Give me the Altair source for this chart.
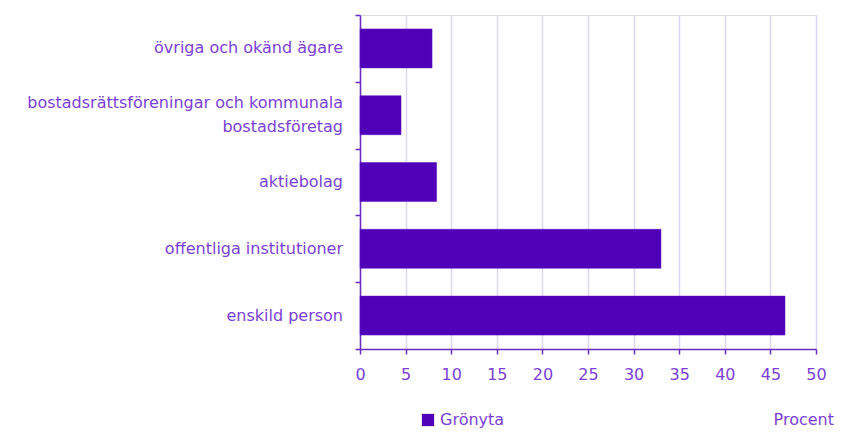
import altair as alt
import pandas as pd

categories = [
    "övriga och okänd ägare",
    "bostadsrättsföreningar och kommunala|bostadsföretag",
    "aktiebolag",
    "offentliga institutioner",
    "enskild person",
]
values = [7.9, 4.5, 8.4, 33.0, 46.6]
series = ["Grönyta"] * 5
x_ticks = [0, 5, 10, 15, 20, 25, 30, 35, 40, 45, 50]

df = pd.DataFrame({"kategori": categories, "procent": values, "serie": series})
df["rader"] = df["kategori"].str.count(r"\|") + 1

TEXT = "#7B3FD6"
AXIS = "#6A2CC0"
BAR = "#5000B8"
GRID = "#DCD8F4"
FONT = "DejaVu Sans"
FS = 16

y_bars = alt.Y(
    "kategori:N",
    sort=categories,
    scale=alt.Scale(paddingInner=0, paddingOuter=0),
    axis=alt.Axis(
        title=None,
        labels=False,
        tickBand="extent",
        domainColor=AXIS,
        domainWidth=1.5,
        tickColor=AXIS,
        tickWidth=1.5,
        tickSize=5,
    ),
)
y_plain = alt.Y("kategori:N", sort=categories)

bars = alt.Chart(df).mark_bar(
    color=BAR, stroke="#5A10C0", strokeWidth=0.5, size=39
).encode(
    x=alt.X(
        "procent:Q",
        scale=alt.Scale(domain=[0, 50], nice=False),
        axis=alt.Axis(
            values=x_ticks,
            title=None,
            grid=True,
            gridColor=GRID,
            gridWidth=1.5,
            domainColor=AXIS,
            domainWidth=1.5,
            tickColor=AXIS,
            tickWidth=1.5,
            tickSize=5,
            labelColor=TEXT,
            labelFont=FONT,
            labelFontSize=FS,
            labelPadding=12,
            labelFlush=False,
        ),
    ),
    y=y_bars,
    fill=alt.Fill(
        "serie:N",
        scale=alt.Scale(range=[BAR]),
        legend=alt.Legend(
            title=None,
            orient="none",
            legendX=60,
            legendY=397,
            symbolType="square",
            symbolSize=150,
            symbolStrokeWidth=0,
            labelColor=TEXT,
            labelFont=FONT,
            labelFontSize=FS,
            labelOffset=4,
        ),
    ),
)

labels1 = alt.Chart(df).transform_filter("datum.rader == 1").mark_text(
    align="right", baseline="middle", color=TEXT, font=FONT, fontSize=FS
).encode(
    y=y_plain,
    x=alt.value(-17),
    text="kategori:N",
)

labels2 = alt.Chart(df).transform_filter("datum.rader > 1").mark_text(
    align="right", baseline="line-bottom", lineHeight=24, lineBreak="|",
    color=TEXT, font=FONT, fontSize=FS
).encode(
    y=y_plain,
    x=alt.value(-17),
    text="kategori:N",
)

procent = alt.Chart(pd.DataFrame({"t": ["Procent"]})).mark_text(
    align="right", baseline="middle", color=TEXT, font=FONT, fontSize=FS
).encode(x=alt.value(474), y=alt.value(405), text="t:N")

chart = alt.layer(bars, labels1, labels2, procent).properties(
    width=456,
    height=334,
    autosize=alt.AutoSizeParams(type="none"),
    padding={"left": 352, "top": 7, "right": 24, "bottom": 83},
).configure_view(stroke=None).configure(background="white")

chart.save("out.html", embed_options={"renderer": "svg", "actions": False})
